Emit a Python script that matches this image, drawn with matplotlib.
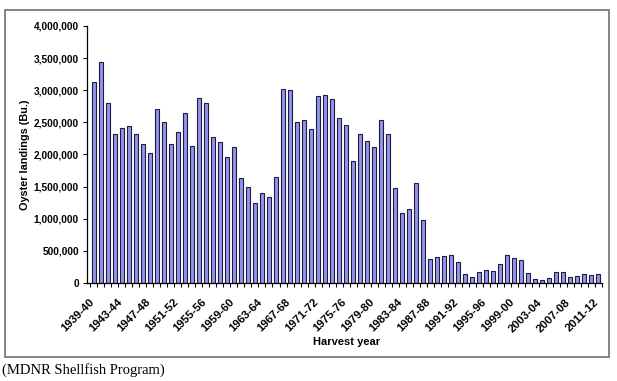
import numpy as np
import matplotlib.pyplot as plt
import matplotlib.transforms as mtransforms
from matplotlib.patches import Rectangle

# Harvest years 1939-40 .. 2011-12
start_years = list(range(1939, 2012))
seasons = [f"{y}-{str(y + 1)[-2:]}" for y in start_years]

# Oyster landings (bushels)
landings = [
    3131000, 3437000, 2798000, 2326000, 2419000, 2440000, 2326000, 2160000,
    2030000, 2705000, 2503000, 2170000, 2347000, 2648000, 2134000, 2882000,
    2798000, 2269000, 2191000, 1968000, 2124000, 1635000, 1490000, 1251000,
    1397000, 1340000, 1651000, 3017000, 3006000, 2513000, 2534000, 2404000,
    2908000, 2923000, 2856000, 2570000, 2451000, 1900000, 2321000, 2207000,
    2113000, 2539000, 2321000, 1485000, 1090000, 1147000, 1558000, 984000,
    369000, 410000, 415000, 431000, 327000, 135000, 93000, 171000,
    202000, 182000, 296000, 431000, 389000, 358000, 151000, 62000,
    42000, 78000, 166000, 177000, 88000, 109000, 145000, 119000,
    135000,
]

y_ticks = np.arange(0, 4000001, 500000)

fig = plt.figure(figsize=(6.17, 3.81), dpi=100)
ax = fig.add_axes([0.1415, 0.257, 0.8335, 0.675])

x = np.arange(len(landings))
ax.bar(x + 0.2, landings, width=0.52, color='#9494ea', edgecolor='#1c1c44', linewidth=0.8)

ax.set_xlim(-0.75, len(landings) - 0.6)
ax.set_ylim(0, 4000000)

ax.set_yticks(y_ticks)
ax.set_yticklabels([f"{v:,}" for v in y_ticks], fontsize=7.3, fontweight='bold',
                   family='Liberation Sans')
ax.tick_params(axis='y', direction='out', length=3, width=0.8, pad=3)

lab_idx = x[::4]
ax.set_xticks(lab_idx + 0.2)
ax.set_xticklabels([seasons[i] for i in lab_idx], rotation=45, ha='right',
                   rotation_mode='anchor', fontsize=8.2, fontweight='bold',
                   family='Liberation Sans')
ax.tick_params(axis='x', which='major', length=0, pad=10)
shift = mtransforms.ScaledTranslation(-5 / 100, 0, fig.dpi_scale_trans)
for lbl in ax.get_xticklabels():
    lbl.set_transform(lbl.get_transform() + shift)
ax.set_xticks(np.arange(-0.3, len(landings), 1), minor=True)
ax.tick_params(axis='x', which='minor', direction='out', length=3, width=0.8)

ax.spines['top'].set_visible(False)
ax.spines['right'].set_visible(False)
ax.spines['left'].set_linewidth(0.9)
ax.spines['bottom'].set_linewidth(0.9)

ax.set_ylabel('Oyster landings (Bu.)', fontsize=7.8, fontweight='bold',
              family='Liberation Sans', labelpad=3)
fig.text(0.561, 0.102, 'Harvest year', fontsize=8, fontweight='bold',
         family='Liberation Sans', ha='center', va='center')

# outer chart frame
fig.patches.append(Rectangle((0.008, 0.063), 0.979, 0.911, transform=fig.transFigure,
                             fill=False, edgecolor='#707070', linewidth=1.2))

fig.text(0.004, 0.029, '(MDNR Shellfish Program)', fontsize=10.5,
         family='Liberation Serif', ha='left', va='center')

plt.savefig('out.png', dpi=100)
